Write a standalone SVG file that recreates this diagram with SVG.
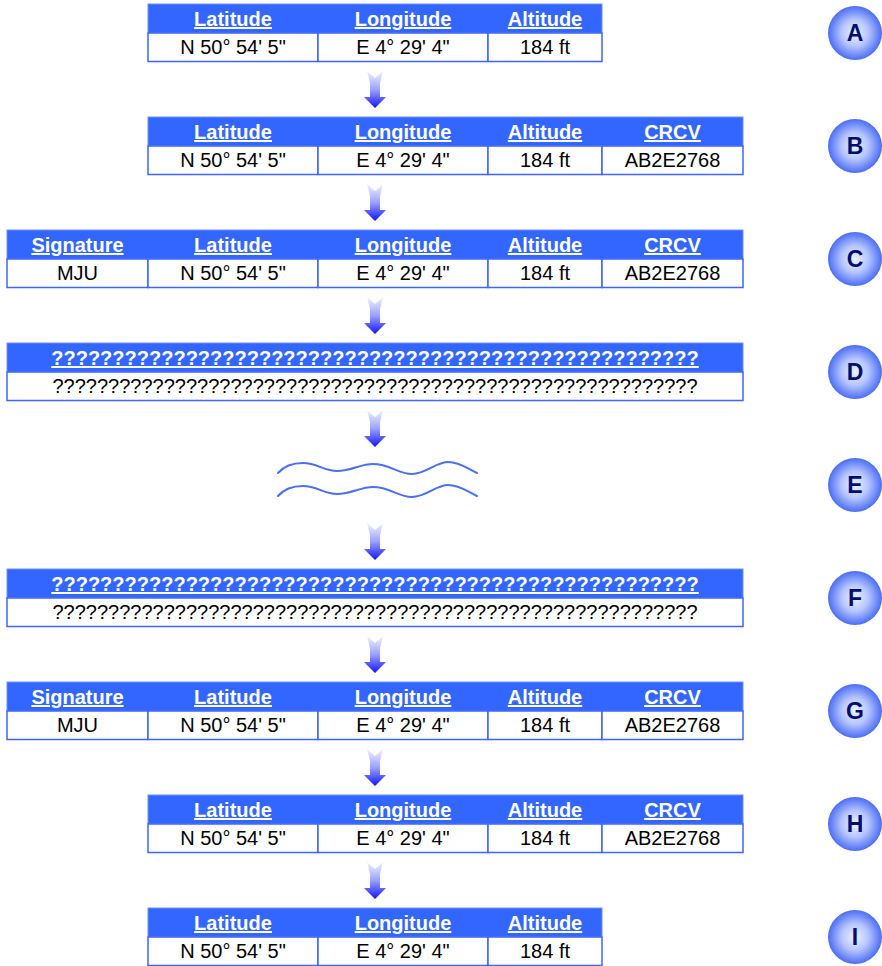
<svg xmlns="http://www.w3.org/2000/svg" width="882" height="966" viewBox="0 0 882 966">
  <defs>
    <style>
      .hd { fill: #3366ff; stroke: #6f8dff; stroke-width: 1; }
      .dc { fill: #ffffff; stroke: #3d66ff; stroke-width: 1.5; }
      .ht { font-family: "Liberation Sans", Arial, sans-serif; font-size: 20px; font-weight: bold; fill: #ffffff; text-anchor: middle; text-decoration: underline; }
      .dt { font-family: "Liberation Sans", Arial, sans-serif; font-size: 20px; fill: #000000; text-anchor: middle; }
      .badge { fill: url(#badgeFill); }
      .bl { font-family: "Liberation Sans", Arial, sans-serif; font-size: 23px; font-weight: bold; fill: #000f6e; text-anchor: middle; }
      .wave { fill: none; stroke: #4a6ef5; stroke-width: 2; stroke-linecap: round; }
    </style>
    <linearGradient id="arrowFill" x1="0" y1="0" x2="0" y2="1">
      <stop offset="0" stop-color="#f2f3ff"/>
      <stop offset="0.5" stop-color="#9aa2ff"/>
      <stop offset="1" stop-color="#1414ff"/>
    </linearGradient>
    <radialGradient id="badgeFill" cx="0.5" cy="0.5" r="0.5">
      <stop offset="0" stop-color="#eef2ff"/>
      <stop offset="0.5" stop-color="#b4c4ff"/>
      <stop offset="1" stop-color="#4b6df4"/>
    </radialGradient>
    <path id="arrow" d="M-8,0 L0,7 L8,0 L5,12 L5,26 L11,26 L0,37 L-11,26 L-5,26 L-5,12 Z" fill="url(#arrowFill)"/>
  </defs>

  <rect width="882" height="966" fill="#ffffff"/>

  <!-- A: position -->
  <g id="rowA" transform="translate(0,4)">
    <rect class="hd" x="148" y="0" width="454" height="29"/>
    <rect class="dc" x="148" y="29" width="170" height="28.5"/>
    <rect class="dc" x="318" y="29" width="170" height="28.5"/>
    <rect class="dc" x="488" y="29" width="114" height="28.5"/>
    <text class="ht" x="233" y="22">Latitude</text>
    <text class="ht" x="403" y="22">Longitude</text>
    <text class="ht" x="545" y="22">Altitude</text>
    <text class="dt" x="233" y="49.5">N 50° 54' 5"</text>
    <text class="dt" x="403" y="49.5">E 4° 29' 4"</text>
    <text class="dt" x="545" y="49.5">184 ft</text>
  </g>

  <!-- B: position + checksum -->
  <g id="rowB" transform="translate(0,117)">
    <rect class="hd" x="148" y="0" width="595" height="29"/>
    <rect class="dc" x="148" y="29" width="170" height="28.5"/>
    <rect class="dc" x="318" y="29" width="170" height="28.5"/>
    <rect class="dc" x="488" y="29" width="114" height="28.5"/>
    <rect class="dc" x="602" y="29" width="141" height="28.5"/>
    <text class="ht" x="233" y="22">Latitude</text>
    <text class="ht" x="403" y="22">Longitude</text>
    <text class="ht" x="545" y="22">Altitude</text>
    <text class="ht" x="672.5" y="22">CRCV</text>
    <text class="dt" x="233" y="49.5">N 50° 54' 5"</text>
    <text class="dt" x="403" y="49.5">E 4° 29' 4"</text>
    <text class="dt" x="545" y="49.5">184 ft</text>
    <text class="dt" x="672.5" y="49.5">AB2E2768</text>
  </g>

  <!-- C: signed record -->
  <g id="rowC" transform="translate(0,230)">
    <rect class="hd" x="7" y="0" width="736" height="29"/>
    <rect class="dc" x="7" y="29" width="141" height="28.5"/>
    <rect class="dc" x="148" y="29" width="170" height="28.5"/>
    <rect class="dc" x="318" y="29" width="170" height="28.5"/>
    <rect class="dc" x="488" y="29" width="114" height="28.5"/>
    <rect class="dc" x="602" y="29" width="141" height="28.5"/>
    <text class="ht" x="77.5" y="22">Signature</text>
    <text class="ht" x="233" y="22">Latitude</text>
    <text class="ht" x="403" y="22">Longitude</text>
    <text class="ht" x="545" y="22">Altitude</text>
    <text class="ht" x="672.5" y="22">CRCV</text>
    <text class="dt" x="77.5" y="49.5">MJU</text>
    <text class="dt" x="233" y="49.5">N 50° 54' 5"</text>
    <text class="dt" x="403" y="49.5">E 4° 29' 4"</text>
    <text class="dt" x="545" y="49.5">184 ft</text>
    <text class="dt" x="672.5" y="49.5">AB2E2768</text>
  </g>

  <!-- D: encoded record -->
  <g id="rowD" transform="translate(0,343)">
    <rect class="hd" x="7" y="0" width="736" height="29"/>
    <rect class="dc" x="7" y="29" width="736" height="28.5"/>
    <text class="ht" x="375" y="22">?????????????????????????????????????????????????????</text>
    <text class="dt" x="375" y="49.5">??????????????????????????????????????????????????????????</text>
  </g>

  <!-- E: transmission break -->
  <g id="rowE">
    <path class="wave" d="M278,473 C284,466 292,463 303,463 C317,463 324,471 337,471 C352,471 360,464 373,464 C390,464 398,474 412,474 C426,474 436,462 448,462 C460,462 468,469 477,473"/>
    <path class="wave" transform="translate(0,23)" d="M278,473 C284,466 292,463 303,463 C317,463 324,471 337,471 C352,471 360,464 373,464 C390,464 398,474 412,474 C426,474 436,462 448,462 C460,462 468,469 477,473"/>
  </g>

  <!-- F: received encoded record -->
  <g id="rowF" transform="translate(0,569)">
    <rect class="hd" x="7" y="0" width="736" height="29"/>
    <rect class="dc" x="7" y="29" width="736" height="28.5"/>
    <text class="ht" x="375" y="22">?????????????????????????????????????????????????????</text>
    <text class="dt" x="375" y="49.5">??????????????????????????????????????????????????????????</text>
  </g>

  <!-- G: decoded signed record -->
  <g id="rowG" transform="translate(0,682)">
    <rect class="hd" x="7" y="0" width="736" height="29"/>
    <rect class="dc" x="7" y="29" width="141" height="28.5"/>
    <rect class="dc" x="148" y="29" width="170" height="28.5"/>
    <rect class="dc" x="318" y="29" width="170" height="28.5"/>
    <rect class="dc" x="488" y="29" width="114" height="28.5"/>
    <rect class="dc" x="602" y="29" width="141" height="28.5"/>
    <text class="ht" x="77.5" y="22">Signature</text>
    <text class="ht" x="233" y="22">Latitude</text>
    <text class="ht" x="403" y="22">Longitude</text>
    <text class="ht" x="545" y="22">Altitude</text>
    <text class="ht" x="672.5" y="22">CRCV</text>
    <text class="dt" x="77.5" y="49.5">MJU</text>
    <text class="dt" x="233" y="49.5">N 50° 54' 5"</text>
    <text class="dt" x="403" y="49.5">E 4° 29' 4"</text>
    <text class="dt" x="545" y="49.5">184 ft</text>
    <text class="dt" x="672.5" y="49.5">AB2E2768</text>
  </g>

  <!-- H: verified position + checksum -->
  <g id="rowH" transform="translate(0,795)">
    <rect class="hd" x="148" y="0" width="595" height="29"/>
    <rect class="dc" x="148" y="29" width="170" height="28.5"/>
    <rect class="dc" x="318" y="29" width="170" height="28.5"/>
    <rect class="dc" x="488" y="29" width="114" height="28.5"/>
    <rect class="dc" x="602" y="29" width="141" height="28.5"/>
    <text class="ht" x="233" y="22">Latitude</text>
    <text class="ht" x="403" y="22">Longitude</text>
    <text class="ht" x="545" y="22">Altitude</text>
    <text class="ht" x="672.5" y="22">CRCV</text>
    <text class="dt" x="233" y="49.5">N 50° 54' 5"</text>
    <text class="dt" x="403" y="49.5">E 4° 29' 4"</text>
    <text class="dt" x="545" y="49.5">184 ft</text>
    <text class="dt" x="672.5" y="49.5">AB2E2768</text>
  </g>

  <!-- I: final position -->
  <g id="rowI" transform="translate(0,908)">
    <rect class="hd" x="148" y="0" width="454" height="29"/>
    <rect class="dc" x="148" y="29" width="170" height="28.5"/>
    <rect class="dc" x="318" y="29" width="170" height="28.5"/>
    <rect class="dc" x="488" y="29" width="114" height="28.5"/>
    <text class="ht" x="233" y="22">Latitude</text>
    <text class="ht" x="403" y="22">Longitude</text>
    <text class="ht" x="545" y="22">Altitude</text>
    <text class="dt" x="233" y="49.5">N 50° 54' 5"</text>
    <text class="dt" x="403" y="49.5">E 4° 29' 4"</text>
    <text class="dt" x="545" y="49.5">184 ft</text>
  </g>

  <!-- step arrows -->
  <g id="connectors">
    <use href="#arrow" transform="translate(375,71)"/>
    <use href="#arrow" transform="translate(375,184)"/>
    <use href="#arrow" transform="translate(375,297)"/>
    <use href="#arrow" transform="translate(375,410)"/>
    <use href="#arrow" transform="translate(375,523)"/>
    <use href="#arrow" transform="translate(375,636)"/>
    <use href="#arrow" transform="translate(375,749)"/>
    <use href="#arrow" transform="translate(375,862)"/>
  </g>

  <!-- step badges -->
  <g id="badgeA"><circle class="badge" cx="855" cy="33" r="27"/><text class="bl" x="855" y="41">A</text></g>
  <g id="badgeB"><circle class="badge" cx="855" cy="146" r="27"/><text class="bl" x="855" y="154">B</text></g>
  <g id="badgeC"><circle class="badge" cx="855" cy="259" r="27"/><text class="bl" x="855" y="267">C</text></g>
  <g id="badgeD"><circle class="badge" cx="855" cy="372" r="27"/><text class="bl" x="855" y="380">D</text></g>
  <g id="badgeE"><circle class="badge" cx="855" cy="485" r="27"/><text class="bl" x="855" y="493">E</text></g>
  <g id="badgeF"><circle class="badge" cx="855" cy="598" r="27"/><text class="bl" x="855" y="606">F</text></g>
  <g id="badgeG"><circle class="badge" cx="855" cy="711" r="27"/><text class="bl" x="855" y="719">G</text></g>
  <g id="badgeH"><circle class="badge" cx="855" cy="824" r="27"/><text class="bl" x="855" y="832">H</text></g>
  <g id="badgeI"><circle class="badge" cx="855" cy="937" r="27"/><text class="bl" x="855" y="945">I</text></g>
</svg>
